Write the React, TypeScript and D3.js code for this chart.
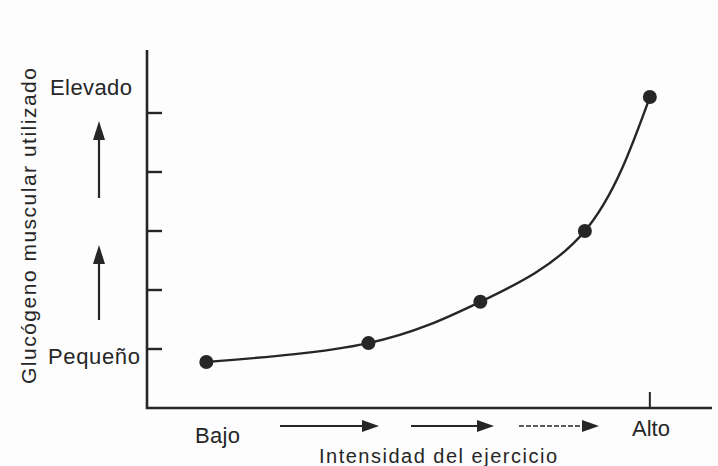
import React from "react";
import * as d3 from "d3";

// Exercise intensity (arbitrary units, Bajo → Alto)
const intensity = [1.05, 3.92, 5.9, 7.75, 8.9];
// Muscle glycogen used (arbitrary units, Pequeño → Elevado)
const glycogen = [0.78, 1.1, 1.8, 3.0, 5.27];
const yTicks = [1, 2, 3, 4, 5];
const yLabels = ["Pequeño", "Elevado"];
const xLabels = ["Bajo", "Alto"];
const xTitle = "Intensidad del ejercicio";
const yTitle = "Glucógeno muscular utilizado";

const W = 718;
const H = 466;
const INK = "#262626";
const FONT = "'Liberation Sans', Arial, Helvetica, sans-serif";

export default function App() {
  const x = d3.scaleLinear().domain([0, 10]).range([147, 712]);
  const y = d3.scaleLinear().domain([0, 6]).range([408, 54]);

  const pts = intensity.map((v, i) => [x(v), y(glycogen[i])] as [number, number]);
  const line = d3.line().curve(d3.curveNatural)(pts) || "";

  const vArrow = (cx: number, y0: number, y1: number, key: string) => (
    <g key={key}>
      <line x1={cx} x2={cx} y1={y0} y2={y1 + 14} stroke={INK} strokeWidth={2.2} />
      <path d={`M${cx},${y1} L${cx - 6},${y1 + 19} L${cx + 6},${y1 + 19} Z`} fill={INK} />
    </g>
  );
  const hArrow = (x0: number, x1: number, cy: number, key: string, dashed = false) => (
    <g key={key}>
      <line
        x1={x0}
        x2={x1 - 12}
        y1={cy}
        y2={cy}
        stroke={INK}
        strokeWidth={dashed ? 1.6 : 2}
        strokeDasharray={dashed ? "5 2" : undefined}
      />
      <path d={`M${x1},${cy} L${x1 - 17},${cy - 6} L${x1 - 17},${cy + 6} Z`} fill={INK} />
    </g>
  );

  return (
    <svg
      width={W}
      height={H}
      viewBox={`0 0 ${W} ${H}`}
      style={{ position: "absolute", left: 0, top: 0, background: "#fdfdfd" }}
      fontFamily={FONT}
    >
      <rect width={W} height={H} fill="#fdfdfd" />
      {/* axes */}
      <line x1={x(0)} x2={x(0)} y1={50} y2={y(0) + 1} stroke={INK} strokeWidth={2.6} />
      <line x1={x(0) - 1} x2={x(10)} y1={y(0)} y2={y(0)} stroke={INK} strokeWidth={2.6} />
      {yTicks.map((t) => (
        <line key={t} x1={x(0)} x2={x(0) + 15} y1={y(t)} y2={y(t)} stroke={INK} strokeWidth={2.4} />
      ))}
      <line x1={x(8.9)} x2={x(8.9)} y1={y(0)} y2={y(0) - 16} stroke={INK} strokeWidth={2} />

      {/* curve and points */}
      <path d={line} fill="none" stroke={INK} strokeWidth={2.4} />
      {pts.map((p, i) => (
        <circle key={i} cx={p[0]} cy={p[1]} r={7} fill={INK} />
      ))}

      {/* y labels */}
      <text x={50} y={95} fontSize={22} fill={INK} textLength={82} lengthAdjust="spacing">
        {yLabels[1]}
      </text>
      <text x={48} y={364} fontSize={22} fill={INK} textLength={92} lengthAdjust="spacing">
        {yLabels[0]}
      </text>
      <text
        transform="translate(36,226) rotate(-90)"
        textAnchor="middle"
        fontSize={21}
        fill={INK}
        textLength={316}
        lengthAdjust="spacing"
      >
        {yTitle}
      </text>
      {vArrow(99, 198, 121, "a1")}
      {vArrow(99, 320, 245, "a2")}

      {/* x labels */}
      <text x={195} y={443} fontSize={22} fill={INK} textLength={45} lengthAdjust="spacing">
        {xLabels[0]}
      </text>
      <text x={632} y={436} fontSize={22} fill={INK} textLength={38} lengthAdjust="spacing">
        {xLabels[1]}
      </text>
      <text x={319} y={463} fontSize={20} fill={INK} textLength={238} lengthAdjust="spacing">
        {xTitle}
      </text>
      {hArrow(280, 379, 426, "h1")}
      {hArrow(411, 494, 426, "h2")}
      {hArrow(519, 599, 426, "h3", true)}
    </svg>
  );
}
